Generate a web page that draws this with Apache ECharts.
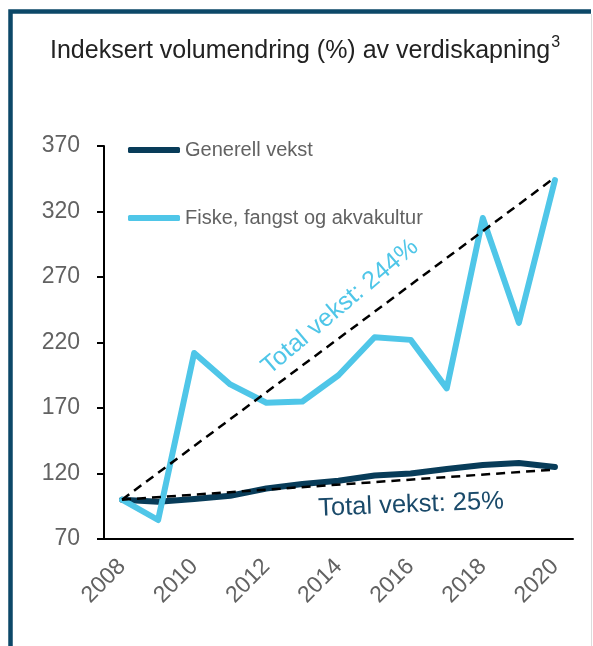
<!DOCTYPE html>
<html>
<head>
<meta charset="utf-8">
<script src="https://cdn.jsdelivr.net/npm/echarts@6/dist/echarts.min.js"></script>
<style>
  html, body { margin: 0; padding: 0; background: #fff; }
  #chart { width: 593px; height: 646px; }
</style>
</head>
<body>
<div id="chart"></div>
<script>
// values
var years = ['2008', '2009', '2010', '2011', '2012', '2013', '2014', '2015', '2016', '2017', '2018', '2019', '2020']
var generell = [100, 98.5, 100.5, 103, 108.5, 112, 114.5, 118.5, 120, 123.5, 126.5, 128, 125]
var fiske = [100, 84.5, 212, 188, 174, 175, 195, 224, 222, 185, 315, 235, 344]
var trendYears = ['2008', '2020']
var trendFiske = [100, 346]
var trendGenerell = [100, 123]
var yTicks = { min: 70, max: 370, step: 50 }

var navy = '#083c59'
var sky = '#4fc6e8'
var grey = '#626262'
var font = 'Liberation Sans, Arial, sans-serif'

function pairs(xs, ys) {
  return xs.map(function (x, i) { return [x, ys[i]] })
}

var chart = echarts.init(document.getElementById('chart'))

chart.setOption({
  animation: false,
  title: {
    text: '{a|Indeksert volumendring (%) av verdiskapning}{s|3}',
    left: 45,
    top: 30,
    textStyle: {
      rich: {
        a: { fontFamily: font, fontSize: 25, fontWeight: 'normal', color: '#222', lineHeight: 32 },
        s: { fontFamily: font, fontSize: 16, fontWeight: 'normal', color: '#222', verticalAlign: 'top', lineHeight: 32, padding: [0, 0, 13, 1] }
      }
    }
  },
  legend: {
    data: ['Generell vekst', 'Fiske, fangst og akvakultur'],
    orient: 'vertical',
    left: 128,
    top: 140,
    padding: 0,
    icon: 'roundRect',
    itemWidth: 52,
    itemHeight: 6,
    itemGap: 48,
    textStyle: { fontFamily: font, fontSize: 20, color: grey }
  },
  grid: { left: 104, right: 20, top: 146, bottom: 107 },
  xAxis: {
    type: 'category',
    data: years,
    boundaryGap: true,
    axisLine: { lineStyle: { color: '#000', width: 2 } },
    axisTick: { show: false },
    axisLabel: {
      interval: 1,
      rotate: 45,
      margin: 24,
      fontFamily: font,
      fontSize: 23,
      color: grey
    }
  },
  yAxis: {
    type: 'value',
    min: yTicks.min,
    max: yTicks.max,
    interval: yTicks.step,
    splitLine: { show: false },
    axisLine: { show: true, lineStyle: { color: '#000', width: 2 } },
    axisTick: { show: true, length: 7, lineStyle: { color: '#000', width: 2 } },
    axisLabel: { margin: 24, fontFamily: font, fontSize: 23, color: grey }
  },
  series: [
    {
      name: 'Generell vekst',
      type: 'line',
      data: generell,
      color: navy,
      symbol: 'none',
      lineStyle: { color: navy, width: 6, cap: 'round', join: 'round' }
    },
    {
      name: 'Fiske, fangst og akvakultur',
      type: 'line',
      data: fiske,
      color: sky,
      symbol: 'none',
      lineStyle: { color: sky, width: 6, cap: 'round', join: 'round' }
    },
    {
      name: 'trend fiske',
      type: 'line',
      data: pairs(trendYears, trendFiske),
      symbol: 'none',
      lineStyle: { color: '#000', width: 2.5, type: [9, 6] }
    },
    {
      name: 'trend generell',
      type: 'line',
      data: pairs(trendYears, trendGenerell),
      symbol: 'none',
      lineStyle: { color: '#000', width: 2.5, type: [9, 6] }
    }
  ],
  graphic: [
    {
      type: 'polyline',
      shape: { points: [[10.5, 646], [10.5, 11.5], [591, 11.5]] },
      style: { stroke: '#0c4868', lineWidth: 4.5, fill: null }
    },
    {
      type: 'line',
      shape: { x1: 591.5, y1: 14, x2: 591.5, y2: 646 },
      style: { stroke: '#dcdcdc', lineWidth: 1 }
    },
    {
      type: 'text',
      x: 340,
      y: 307,
      rotation: 40 * Math.PI / 180,
      style: {
        text: 'Total vekst: 244%',
        fontFamily: font,
        fontSize: 25,
        fill: sky,
        align: 'center',
        verticalAlign: 'middle'
      }
    },
    {
      type: 'text',
      x: 411,
      y: 505,
      rotation: 2.3 * Math.PI / 180,
      style: {
        text: 'Total vekst: 25%',
        fontFamily: font,
        fontSize: 25.5,
        fill: '#1a4a6a',
        align: 'center',
        verticalAlign: 'middle'
      }
    }
  ]
})
</script>
</body>
</html>
